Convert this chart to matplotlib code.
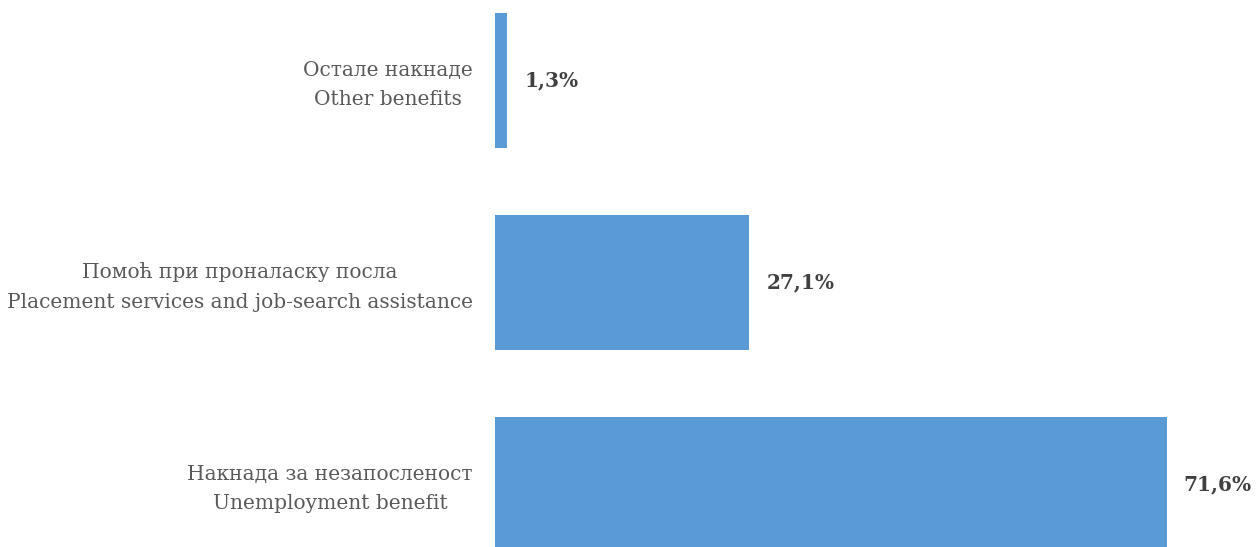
import matplotlib
matplotlib.use("Agg")
import matplotlib.pyplot as plt
import matplotlib.transforms as mtransforms

categories = ["Накнада за незапосленост\nUnemployment benefit",
              "Помоћ при проналаску посла\nPlacement services and job-search assistance",
              "Остале накнаде\nOther benefits"]
values = [71.6, 27.1, 1.3]
value_labels = ["71,6%", "27,1%", "1,3%"]

plt.rcParams['font.family'] = ['DejaVu Serif']

fig = plt.figure(figsize=(12.56, 5.47), dpi=100)
ax = fig.add_axes([495/1256, 0, 1 - 495/1256, 1])
pos = list(range(len(categories)))
ax.barh(pos, values, height=0.668, color="#5B9BD5")
ax.set_xlim(0, (1256 - 495) / 9.385)
ax.set_ylim(-0.309, 2.3985)
ax.set_yticks(pos)
ax.set_yticklabels(categories, fontsize=14.5, color="#595959", multialignment="center", linespacing=1.7)
ax.tick_params(axis="y", length=0, pad=16)
ax.set_xticks([])
for s in ax.spines.values():
    s.set_visible(False)
offset = mtransforms.ScaledTranslation(0, 3/100, fig.dpi_scale_trans)
for t in ax.get_yticklabels():
    t.set_transform(t.get_transform() + offset)
for p, v, lab in zip(pos, values, value_labels):
    ax.text(v + 1.8, p, lab, va="center", ha="left", fontsize=14.5, fontweight="bold", color="#404040")
fig.savefig("out.png", dpi=100)
